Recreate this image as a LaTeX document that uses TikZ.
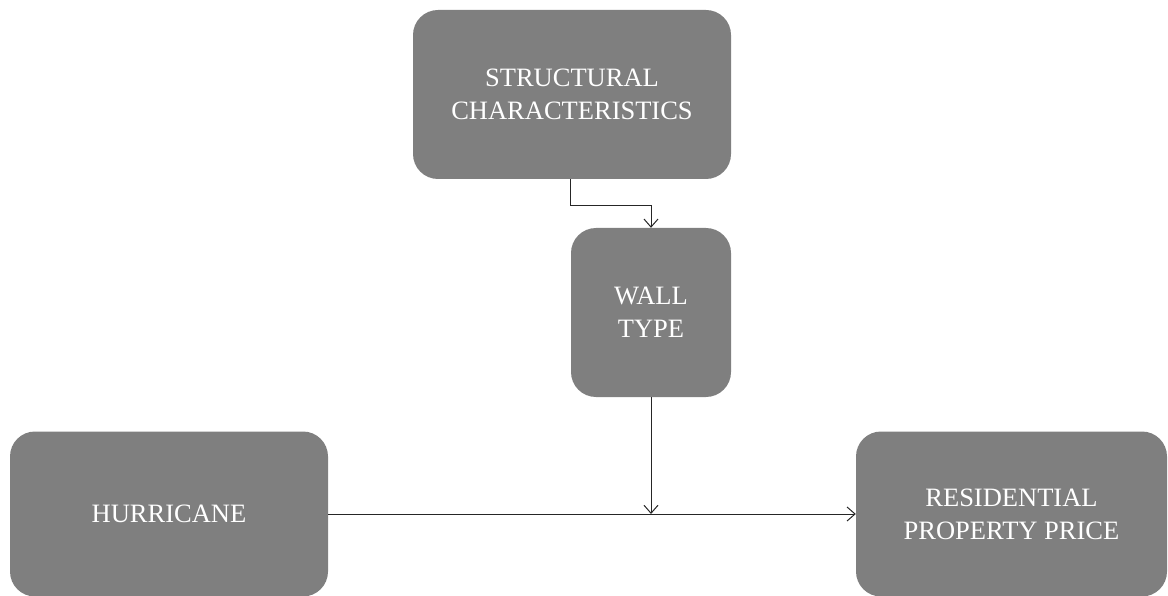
\documentclass[tikz,border=0pt]{standalone}
\usepackage{fontspec}
\setmainfont{Liberation Serif}
\usetikzlibrary{arrows.meta}
\tikzset{
 factor/.style={fill=boxgray, rounded corners=25pt, text=white, align=center,
   inner sep=0pt, font=\fontsize{26.5}{33}\selectfont},
 link/.style={draw=black!85, line width=1pt, -{Straight Barb[length=8pt,width=14pt]}}
}
\definecolor{boxgray}{HTML}{7F7F7F}
\begin{document}
\begin{tikzpicture}[x=1pt,y=-1pt]
 \useasboundingbox (0,0) rectangle (1168,596);
 \node[factor, minimum width=318pt, minimum height=169pt](sc) at (572,94.5) {STRUCTURAL\\CHARACTERISTICS};
 \node[factor, minimum width=160pt, minimum height=169pt](wt) at (651,312.5) {WALL\\TYPE};
 \node[factor, minimum width=318pt, minimum height=165pt](hur) at (169,514) {HURRICANE};
 \node[factor, minimum width=311pt, minimum height=165pt](rpp) at (1011.5,514) {RESIDENTIAL\\PROPERTY PRICE};
 \coordinate (j) at (wt.south |- hur.east);
 \draw[link] (wt.west |- sc.south) -- ++(0,26) -| (wt.north);
 \draw[link] (hur.east) -- (rpp.west);
 \draw[link] (wt.south) -- (j);
\end{tikzpicture}
\end{document}
